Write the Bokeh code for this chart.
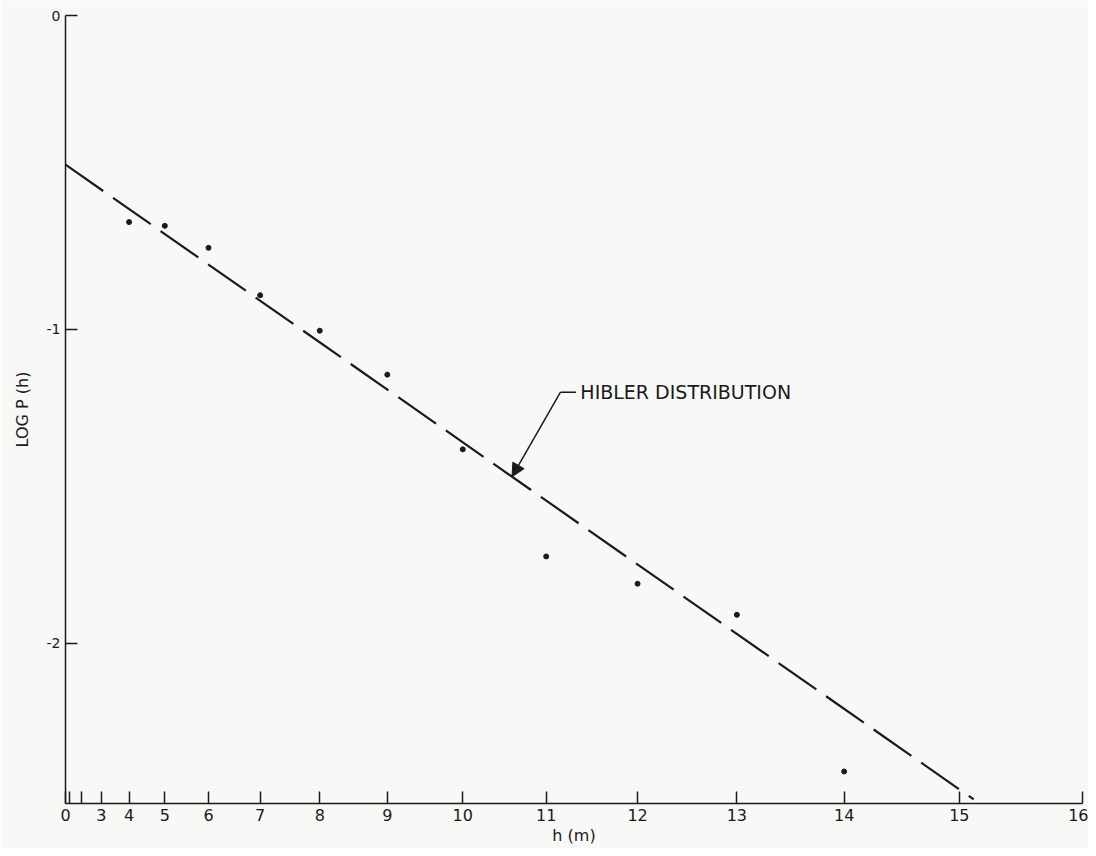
import math
from bokeh.plotting import figure
from bokeh.models import (FixedTicker, Range1d, Label, Arrow, NormalHead, ColumnDataSource)
from bokeh.embed import file_html
from bokeh.resources import INLINE

# ---- data ----
h_values = [4, 5, 6, 7, 8, 9, 10, 11, 12, 13, 14]
log_p = [-0.658, -0.670, -0.740, -0.891, -1.004, -1.144, -1.382, -1.723, -1.810, -1.909, -2.408]

# Hibler distribution line (end points)
hibler_h = [0.0, 15.12]
hibler_logp = [-0.475, -2.497]

# axis ticks (x axis is scaled in h^2)
x_tick_h = list(range(0, 17))
x_tick_labels = ["0", "", ""] + [str(v) for v in range(3, 17)]
y_ticks = [0, -1, -2]
y_tick_labels = ["0", "-1", "-2"]

FONT = "DejaVu Sans"
BG = "#f8f8f6"
INK = "#1a1a1a"

def sq(v):
    return v * v

p = figure(width=1088, height=848, output_backend="svg", toolbar_location=None,
           x_range=Range1d(0, 256), y_range=Range1d(-2.51, 0.0),
           x_axis_label="h (m)", y_axis_label="LOG P (h)",
           min_border_left=65, min_border_right=6, min_border_top=15, min_border_bottom=45)
p.background_fill_color = BG
p.border_fill_color = BG
p.outline_line_color = None
p.xgrid.visible = False
p.ygrid.visible = False

# x axis
xa = p.xaxis[0]
xa.ticker = FixedTicker(ticks=[sq(v) for v in x_tick_h])
xa.major_label_overrides = {sq(v): lab for v, lab in zip(x_tick_h, x_tick_labels)}
xa.major_tick_in = 12
xa.major_tick_out = 0
xa.minor_tick_line_color = None
xa.major_label_standoff = 5
xa.major_label_text_font = FONT
xa.major_label_text_font_size = "16px"
xa.major_label_text_color = INK
xa.axis_line_width = 1.5
xa.axis_line_color = INK
xa.major_tick_line_color = INK
xa.major_tick_line_width = 1.5
xa.axis_label_text_font = FONT
xa.axis_label_text_font_size = "16px"
xa.axis_label_text_font_style = "normal"
xa.axis_label_text_color = INK
xa.axis_label_standoff = 2

# y axis
ya = p.yaxis[0]
ya.ticker = FixedTicker(ticks=y_ticks)
ya.major_label_overrides = {v: lab for v, lab in zip(y_ticks, y_tick_labels)}
ya.major_tick_in = 12
ya.major_tick_out = 0
ya.minor_tick_line_color = None
ya.major_label_standoff = 5
ya.major_label_text_font = FONT
ya.major_label_text_font_size = "14px"
ya.major_label_text_color = INK
ya.axis_line_width = 1.5
ya.axis_line_color = INK
ya.major_tick_line_color = INK
ya.major_tick_line_width = 1.5
ya.axis_label_text_font = FONT
ya.axis_label_text_font_size = "16px"
ya.axis_label_text_font_style = "normal"
ya.axis_label_text_color = INK
ya.axis_label_standoff = 12

# dashed Hibler line
p.line([sq(v) for v in hibler_h], hibler_logp, line_color=INK, line_width=2.2,
       line_dash="46 12")

# data points
src = ColumnDataSource(dict(x=[sq(v) for v in h_values], y=log_p))
p.scatter("x", "y", source=src, size=5, color=INK)

# annotation: leader and arrow
corner_x, corner_y = 124.6, -1.20
tip_h2 = 112.4
tip_y = hibler_logp[0] + (hibler_logp[1] - hibler_logp[0]) * tip_h2 / sq(hibler_h[1])
p.segment(x0=[corner_x], y0=[corner_y], x1=[128.5], y1=[corner_y], line_color=INK, line_width=1.5)
p.add_layout(Arrow(end=NormalHead(size=13, fill_color=INK, line_color=INK),
                   x_start=corner_x, y_start=corner_y, x_end=tip_h2, y_end=tip_y,
                   line_color=INK, line_width=1.5))
p.add_layout(Label(x=129.6, y=corner_y, text="HIBLER DISTRIBUTION", text_font=FONT,
                   text_font_size="19px", text_baseline="middle", text_align="left",
                   text_color=INK))

open("out.html", "w").write(file_html(p, INLINE))
